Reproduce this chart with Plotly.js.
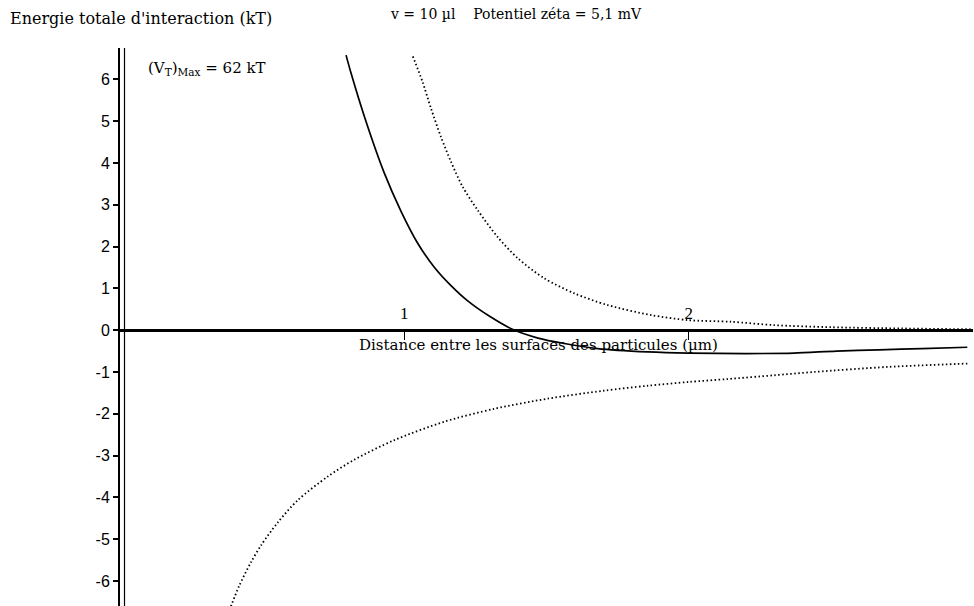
<!DOCTYPE html>
<html>
<head>
<meta charset="utf-8">
<script src="https://cdn.plot.ly/plotly-3.0.1.min.js"></script>
<style>html,body{margin:0;padding:0;background:#fff;}#chart{width:974px;height:606px;}</style>
</head>
<body>
<div id="chart"></div>
<script>
// Distance between particle surfaces (µm) and total interaction energy (kT)
const xSolid = [0.795, 0.8125, 0.86, 0.93, 0.988, 1.047, 1.106, 1.165, 1.223, 1.30, 1.38, 1.47, 1.563, 1.68, 1.856, 2.0, 2.2, 2.37, 2.52, 2.67, 2.82, 2.98];
const ySolid = [6.58, 6.15, 5.10, 3.75, 2.85, 2.08, 1.50, 1.06, 0.70, 0.33, 0.02, -0.19, -0.32, -0.44, -0.52, -0.55, -0.56, -0.55, -0.50, -0.47, -0.44, -0.41];

const xUpper = [1.030, 1.064, 1.094, 1.129, 1.164, 1.205, 1.258, 1.328, 1.399, 1.492, 1.598, 1.715, 1.868, 1.997, 2.15, 2.3, 2.5, 2.75, 3.0];
const yUpper = [6.55, 5.94, 5.30, 4.62, 4.03, 3.43, 2.87, 2.23, 1.72, 1.24, 0.88, 0.60, 0.36, 0.24, 0.20, 0.12, 0.07, 0.04, 0.02];

const xLower = [0.385, 0.419, 0.461, 0.496, 0.555, 0.625, 0.731, 0.824, 0.965, 1.141, 1.317, 1.504, 1.70, 1.856, 2.0, 2.137, 2.3, 2.442, 2.70, 2.98];
const yLower = [-6.70, -6.12, -5.55, -5.15, -4.60, -4.07, -3.50, -3.10, -2.63, -2.19, -1.88, -1.64, -1.45, -1.33, -1.24, -1.17, -1.08, -1.0, -0.88, -0.80];

const yTickVals = [-6, -5, -4, -3, -2, -1, 0, 1, 2, 3, 4, 5, 6];
const yTickText = ["-6", "-5", "-4", "-3", "-2", "-1", "0", "1", "2", "3", "4", "5", "6"];
const xTickVals = [1, 2, 3];
const xTickText = ["1", "2", "3"];

const titleText = "v = 10 µl\u00a0\u00a0\u00a0\u00a0Potentiel zéta = 5,1 mV";
const yLabelText = "Energie totale d'interaction (kT)";
const xLabelText = "Distance entre les surfaces des particules (µm)";
const maxText = "(V<sub>T</sub>)<sub>Max</sub> = 62 kT";

const yMin = -6.6, yMax = 6.75;
const serif = "DejaVu Serif";

const traces = [
  {x: xSolid, y: ySolid, mode: "lines", line: {color: "#000", width: 1.7, shape: "spline", smoothing: 0.8}, hoverinfo: "skip"},
  {x: xUpper, y: yUpper, mode: "lines", line: {color: "#000", width: 1.8, dash: "1.5px,2.5px", shape: "spline", smoothing: 0.8}, hoverinfo: "skip"},
  {x: xLower, y: yLower, mode: "lines", line: {color: "#000", width: 1.8, dash: "1.5px,2.5px", shape: "spline", smoothing: 0.8}, hoverinfo: "skip"}
];

const layout = {
  width: 974, height: 606,
  margin: {l: 120, r: 1, t: 48, b: 0},
  paper_bgcolor: "#fff", plot_bgcolor: "#fff",
  showlegend: false,
  xaxis: {
    range: [0, 3], showgrid: false, zeroline: false,
    anchor: "free", position: (0 - yMin) / (yMax - yMin), side: "top",
    showline: true, linecolor: "#000", linewidth: 2.5,
    ticks: "inside", ticklen: 8, tickwidth: 1.5, tickcolor: "#000",
    tickvals: xTickVals, ticktext: xTickText, ticklabelstandoff: 3,
    tickfont: {family: "Liberation Serif", size: 17, color: "#000"}
  },
  yaxis: {
    range: [yMin, yMax], showgrid: false, zeroline: false,
    showline: true, linecolor: "#000", linewidth: 2,
    ticks: "outside", ticklen: 5, tickwidth: 2, tickcolor: "#000",
    tickvals: yTickVals, ticktext: yTickText,
    tickfont: {family: "Liberation Sans", size: 16, color: "#000"}
  },
  shapes: [
    {type: "line", xref: "x", xsizemode: "pixel", xanchor: 0, x0: 4.5, x1: 4.5, yref: "paper", y0: 0, y1: 1, line: {color: "#000", width: 1.2}}
  ],
  annotations: [
    {text: titleText, xref: "paper", yref: "paper", x: (388 - 120) / 853, y: (606 - 14) / 558, xanchor: "left", yanchor: "middle", showarrow: false, font: {family: serif, size: 14, color: "#000"}},
    {text: yLabelText, xref: "paper", yref: "paper", x: (8 - 120) / 853, y: (606 - 19) / 558, xanchor: "left", yanchor: "middle", showarrow: false, font: {family: serif, size: 16, color: "#000"}},
    {text: maxText, xref: "paper", yref: "paper", x: (146 - 120) / 853, y: (606 - 68) / 558, xanchor: "left", yanchor: "middle", showarrow: false, font: {family: serif, size: 15, color: "#000"}},
    {text: xLabelText, xref: "paper", yref: "paper", x: (538 - 120) / 853, y: (606 - 345) / 558, xanchor: "center", yanchor: "middle", showarrow: false, font: {family: serif, size: 15, color: "#000"}}
  ]
};

Plotly.newPlot("chart", traces, layout, {staticPlot: true, displayModeBar: false});
</script>
</body>
</html>
